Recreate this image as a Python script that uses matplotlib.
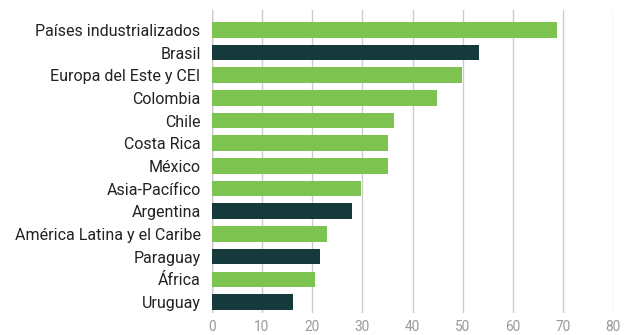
import matplotlib
matplotlib.use("Agg")
import matplotlib.pyplot as plt

categories = [
    "Países industrializados", "Brasil", "Europa del Este y CEI", "Colombia",
    "Chile", "Costa Rica", "México", "Asia-Pacífico", "Argentina",
    "América Latina y el Caribe", "Paraguay", "África", "Uruguay",
]
values = [68.8, 53.2, 49.9, 44.9, 36.3, 35.1, 35.1, 29.8, 28.0, 23.0, 21.6, 20.6, 16.2]
highlight = ["Brasil", "Argentina", "Paraguay", "Uruguay"]
xticks = [0, 10, 20, 30, 40, 50, 60, 70, 80]

GREEN = "#7dc352"
DARK = "#163a3b"

plt.rcParams["font.family"] = ["Roboto", "DejaVu Sans"]

fig = plt.figure(figsize=(6.32, 3.35), dpi=100)
ax = fig.add_axes([0.335, 0.0657, 0.6354, 0.904])

pos = list(range(len(categories)))
colors = [DARK if c in highlight else GREEN for c in categories]
ax.barh(pos, values, height=0.69, color=colors, zorder=3)

ax.set_xlim(0, 80)
ax.set_ylim(12.485, -0.873)
ax.set_xticks(xticks)
ax.set_xticklabels([str(t) for t in xticks])
ax.set_yticks(pos)
ax.set_yticklabels(categories)

ax.grid(axis="x", color="#cccccc", linewidth=1.0, zorder=0)
ax.axvline(0, color="#bbbbbb", linewidth=1.0, zorder=1)
for s in ax.spines.values():
    s.set_visible(False)

ax.tick_params(axis="y", length=0, pad=8, labelsize=11.5, labelcolor="#222222")
ax.tick_params(axis="x", length=0, pad=5, labelsize=9.8, labelcolor="#999999")

fig.savefig("out.png", dpi=100)
